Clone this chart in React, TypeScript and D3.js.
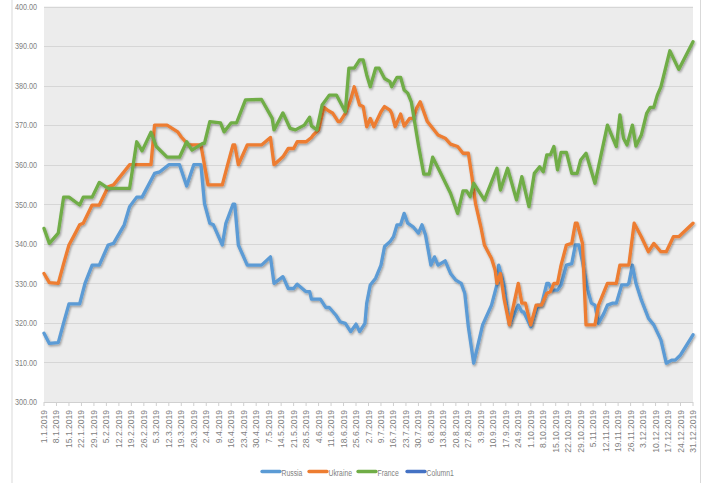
import React, { useEffect, useRef } from 'react';
import * as d3 from 'd3';

// day offset from 1.1.2019, value
const russia: [number, number][] = [
  [0, 317.4], [3, 314.8], [8, 315], [11, 320], [14, 324.8], [20, 324.8], [23, 330], [27, 334.6], [31, 334.6],
  [36, 339.7], [39, 340.1], [45, 344.8], [48, 349.4], [52, 351.8], [55, 351.8], [62, 357.8], [65, 358.2],
  [70, 360], [76, 360], [80, 354.6], [84, 360], [88, 360], [90, 350.2], [93, 345.2], [95, 344.8], [100, 339.7],
  [102, 345.2], [106, 350], [107, 350], [109, 339.7], [114, 334.6], [122, 334.6], [127, 336.7], [129, 330],
  [134, 331.7], [137, 328.7], [140, 328.7], [142, 329.8], [147, 327.9], [149, 327.9], [150, 326], [155, 326],
  [158, 323.9], [160, 323.9], [164, 321.8], [166, 320.3], [169, 319.9], [172, 317.8], [175, 319.7], [177, 317.8],
  [180, 319.9], [181, 325], [183, 329.6], [186, 331.3], [189, 334.6], [191, 339.3], [194, 340.5], [196, 341.8],
  [198, 344.8], [200, 344.8], [202, 347.7], [204, 345.2], [207, 344.3], [210, 342.7], [212, 344.8], [214, 342.2],
  [217, 334.6], [219, 336.7], [221, 334.6], [225, 335.7], [228, 332.5], [231, 330.8], [234, 330], [236, 327.5],
  [238, 319], [241, 309.8], [246, 319.5], [251, 324.5], [254, 329.6], [255, 334.6], [258, 329.6], [261, 319.5],
  [266, 324.5], [268, 322.8], [269, 322.8], [273, 319], [277, 324.5], [279, 324.5], [282, 330], [283, 330],
  [285, 328.3], [288, 328.3], [290, 329.6], [293, 334.6], [296, 335], [298, 339.7], [300, 339.7], [302, 335.5],
  [305, 328.3], [307, 325], [309, 324.5], [311, 319.9], [314, 322.4], [316, 324.5], [319, 325], [321, 325],
  [324, 329.6], [327, 329.6], [328, 330], [330, 334.6], [332, 330], [335, 325.8], [339, 321.2], [342, 319.5],
  [346, 315.7], [349, 309.8], [352, 310.6], [354, 310.6], [357, 311.9], [364, 317],
];

const ukraine: [number, number][] = [
  [0, 332.5], [3, 330.2], [8, 330], [11, 335], [14, 339.7], [17, 342.2], [20, 344.8], [22, 345.2], [27, 349.8],
  [31, 349.8], [36, 354.4], [39, 354.9], [48, 360], [60, 360], [62, 370], [69, 370], [75, 368.3], [77, 367],
  [81, 365], [88, 365], [92, 354.9], [100, 354.9], [103, 360], [106, 365], [107, 365], [109, 360], [114, 365],
  [122, 365], [127, 366.9], [129, 360], [134, 362], [137, 364.1], [140, 364.1], [142, 365.8], [147, 365.8],
  [150, 366.9], [151, 367.5], [154, 368.8], [157, 374.5], [159, 373.8], [162, 373], [165, 370.9], [166, 370.9],
  [169, 373], [172, 376.4], [174, 379.7], [177, 375.1], [179, 374.7], [181, 369.6], [183, 371.7], [185, 369.6],
  [189, 373.4], [191, 374.7], [194, 373.8], [195, 373], [197, 369.6], [200, 372.8], [202, 369.8], [205, 371.7],
  [207, 371.7], [209, 374.3], [211, 375.9], [215, 370.9], [218, 369.2], [221, 367.5], [225, 366.7], [228, 365.2],
  [232, 364.6], [235, 362.9], [238, 362.9], [240, 357], [242, 350.2], [245, 344.3], [247, 339.7], [251, 336.3],
  [253, 333.4], [254, 330], [256, 332.5], [258, 326.2], [261, 319.5], [266, 330], [268, 325], [270, 325],
  [273, 319.5], [276, 324.5], [279, 324.5], [282, 327.5], [284, 327.9], [286, 330], [288, 330], [290, 334.6],
  [293, 339.7], [296, 340.1], [298, 345.2], [299, 345.2], [302, 340.1], [304, 319.5], [309, 319.5], [311, 324.5],
  [316, 330], [321, 330], [323, 334.6], [328, 334.6], [331, 345.2], [335, 341.8], [339, 338], [342, 340.1],
  [346, 338], [349, 338], [353, 341.8], [356, 341.8], [364, 345.2],
];

const france: [number, number][] = [
  [0, 343.9], [3, 340.1], [8, 342.7], [11, 351.8], [14, 351.8], [20, 349.8], [22, 351.8], [27, 351.8],
  [31, 355.5], [36, 354], [48, 354], [52, 365.8], [55, 363.5], [60, 368.2], [63, 364.6], [69, 361.9],
  [76, 361.9], [80, 365.8], [83, 363.7], [89, 365.4], [90, 365.4], [93, 370.9], [99, 370.6], [101, 368.3],
  [105, 370.6], [108, 370.6], [113, 376.4], [122, 376.5], [128, 371.7], [129, 368.8], [134, 373.1], [138, 369.2],
  [141, 368.8], [146, 370], [149, 372], [150, 369.8], [153, 368.8], [156, 375.1], [160, 377.6], [164, 377.6],
  [166, 375.9], [169, 373.4], [171, 384.4], [174, 384.4], [177, 386.5], [179, 386.5], [181, 382.7], [183, 379.7],
  [186, 384.4], [188, 384.4], [191, 381.8], [194, 381], [195, 379.7], [198, 382.1], [200, 382.1], [202, 378.9],
  [204, 378.1], [206, 375.9], [210, 365], [213, 357.6], [216, 357.6], [218, 361.9], [223, 357.4], [228, 352.8],
  [232, 347.7], [235, 353.4], [237, 353.4], [239, 351.9], [241, 355.3], [247, 351.1], [254, 359.1], [256, 353.6],
  [260, 359.1], [265, 351.1], [268, 357], [272, 349.4], [275, 357.8], [278, 359.5], [280, 358.2], [282, 362.5],
  [284, 362.5], [286, 364.6], [288, 358.7], [290, 363.1], [293, 363.1], [296, 357.8], [299, 357.8], [301, 361.2],
  [304, 362.9], [309, 355.3], [316, 370], [321, 364.6], [323, 372.6], [325, 366.7], [327, 365], [330, 370],
  [332, 364.7], [335, 367.5], [338, 373], [340, 374.5], [342, 374.5], [344, 377.6], [346, 379.7], [351, 388.8],
  [356, 384.1], [364, 391.1],
];

const column1: [number, number][] = [];

const seriesNames = ['Russia', 'Ukraine', 'France', 'Column1'];
const seriesData = [russia, ukraine, france, column1];
const seriesColors = ['#5B9BD5', '#ED7D31', '#70AD47', '#4472C4'];

const tickDays = d3.range(0, 365, 7);
const yTicks = d3.range(300, 401, 10);

const FONT = "'Liberation Sans', Arial, sans-serif";

export default function App() {
  const ref = useRef<SVGSVGElement | null>(null);

  useEffect(() => {
    const W = 709, H = 483;
    const m = { left: 44, right: 16, top: 6.5, bottom: 81 };
    const svg = d3.select(ref.current);
    svg.selectAll('*').remove();

    const x = d3.scaleLinear().domain([0, 364]).range([m.left, W - m.right]);
    const y = d3.scaleLinear().domain([300, 400]).range([H - m.bottom, m.top]);

    const defs = svg.append('defs');
    const f = defs.append('filter').attr('id', 'shadow').attr('x', '-5%').attr('y', '-5%')
      .attr('width', '110%').attr('height', '110%');
    f.append('feDropShadow').attr('dx', 1).attr('dy', 1.5).attr('stdDeviation', 1)
      .attr('flood-color', '#000').attr('flood-opacity', 0.35);

    // chart frame edges
    svg.append('line').attr('x1', 12).attr('x2', 12).attr('y1', 0).attr('y2', H)
      .attr('stroke', '#d9d9d9');
    svg.append('line').attr('x1', 700.5).attr('x2', 700.5).attr('y1', 0).attr('y2', H)
      .attr('stroke', '#d9d9d9');

    // plot background
    svg.append('rect').attr('x', x(0)).attr('y', y(400))
      .attr('width', x(364) - x(0)).attr('height', y(300) - y(400))
      .attr('fill', '#ececec');

    // grid
    svg.append('g').selectAll('line').data(yTicks).enter().append('line')
      .attr('x1', x(0)).attr('x2', x(364))
      .attr('y1', d => Math.round(y(d)) + 0.5).attr('y2', d => Math.round(y(d)) + 0.5)
      .attr('stroke', '#d6d6d6').attr('stroke-width', 1);

    // y labels (condensed)
    svg.append('g').selectAll('text').data(yTicks).enter().append('text')
      .attr('transform', d => `translate(37,${y(d) + 3.3}) scale(0.76,1)`)
      .attr('text-anchor', 'end')
      .attr('font-family', FONT).attr('font-size', 9.5).attr('fill', '#7f7f7f')
      .text(d => d3.format('.2f')(d));

    // x axis
    svg.append('line').attr('x1', x(0)).attr('x2', x(364))
      .attr('y1', y(300) + 0.5).attr('y2', y(300) + 0.5).attr('stroke', '#d0d0d0');
    svg.append('g').selectAll('line').data(tickDays).enter().append('line')
      .attr('x1', d => x(d)).attr('x2', d => x(d))
      .attr('y1', y(300)).attr('y2', y(300) + 4).attr('stroke', '#d0d0d0');

    const fmt = d3.timeFormat('%-d.%-m.%Y');
    svg.append('g').selectAll('text').data(tickDays).enter().append('text')
      .attr('transform', d => `translate(${x(d) + 3},${y(300) + 8}) rotate(-90) scale(0.9,1)`)
      .attr('text-anchor', 'end')
      .attr('font-family', FONT).attr('font-size', 9.5).attr('fill', '#7f7f7f')
      .text(d => fmt(new Date(2019, 0, 1 + d)));

    // lines
    const line = d3.line<[number, number]>()
      .x(d => x(d[0])).y(d => y(d[1]));
    seriesData.forEach((s, i) => {
      if (!s.length) return;
      svg.append('path').datum(s)
        .attr('d', line)
        .attr('fill', 'none')
        .attr('stroke', seriesColors[i])
        .attr('stroke-width', 3.3)
        .attr('stroke-linejoin', 'round')
        .attr('stroke-linecap', 'round')
        .attr('filter', 'url(#shadow)');
    });

    // legend
    const legendX = [262, 309, 358, 407];
    const lg = svg.append('g');
    seriesNames.forEach((n, i) => {
      lg.append('line').attr('x1', legendX[i]).attr('x2', legendX[i] + 18)
        .attr('y1', 471.5).attr('y2', 471.5)
        .attr('stroke', seriesColors[i]).attr('stroke-width', 3.3).attr('stroke-linecap', 'round');
      lg.append('text')
        .attr('transform', `translate(${legendX[i] + 19.5},475.5) scale(0.72,1)`)
        .attr('font-family', FONT).attr('font-size', 9.5).attr('fill', '#7f7f7f')
        .text(n);
    });
  }, []);

  return (
    <svg ref={ref} width={709} height={483}
      style={{ position: 'absolute', left: 0, top: 0, display: 'block', background: '#fff' }} />
  );
}
